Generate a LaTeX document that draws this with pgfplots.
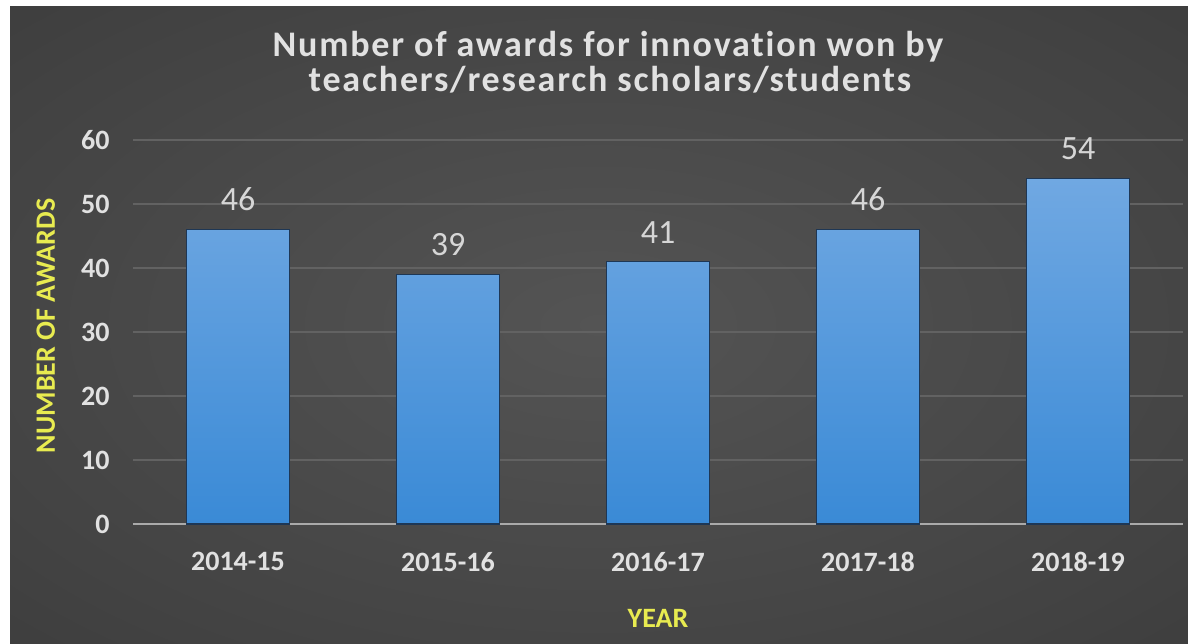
\documentclass[border=0pt]{standalone}
\usepackage{fontspec}
\setmainfont{Carlito}
\newfontfamily\titlefont[LetterSpace=5, Ligatures={NoCommon}]{Carlito}
\usepackage{pgfplots}
\pgfplotsset{compat=1.18}
\definecolor{bgIn}{RGB}{84,84,84}
\definecolor{bgMid}{RGB}{66,66,66}
\definecolor{bgOut}{RGB}{38,38,38}
\definecolor{txt}{RGB}{225,225,225}
\definecolor{lbl}{RGB}{214,214,214}
\definecolor{yel}{RGB}{232,235,80}
\definecolor{barTop}{RGB}{112,168,226}
\definecolor{barBot}{RGB}{58,138,214}
\definecolor{barEdge}{RGB}{30,55,85}
\definecolor{gridc}{RGB}{98,98,98}
\definecolor{axisc}{RGB}{170,170,170}
\pgfdeclareradialshading{bgrad}{\pgfpoint{0bp}{0bp}}{color(0bp)=(bgIn); color(30bp)=(bgMid); color(72bp)=(bgOut)}
\begin{document}
\begin{tikzpicture}
\fill[white] (0,0) rectangle (594pt,321.5pt);
\shade[shading=bgrad] (5pt,0) rectangle (594pt,318pt);
\node[anchor=base, text=txt, font=\titlefont\bfseries\fontsize{18pt}{21pt}\selectfont, inner sep=0pt] at (304pt,293pt) {Number of awards for innovation won by};
\node[anchor=base, text=txt, font=\titlefont\bfseries\fontsize{18pt}{21pt}\selectfont, inner sep=0pt] at (305pt,275.5pt) {teachers/research scholars/students};
\begin{axis}[
  at={(66.5pt,59.5pt)}, anchor=south west,
  scale only axis, width=525pt, height=192pt,
  xmin=-0.5, xmax=4.5, ymin=0, ymax=60,
  xtick=data, xticklabels={2014-15,2015-16,2016-17,2017-18,2018-19},
  ytick={0,10,...,60},
  /pgf/number format/assume math mode=true,
  axis x line*=bottom, axis y line*=left,
  y axis line style={draw=none},
  x axis line style={-, draw=axisc, line width=1pt},
  major tick style={draw=none},
  ymajorgrids, grid style={gridc, line width=0.6pt},
  xticklabel style={text=txt, font=\fontsize{14pt}{16pt}\selectfont\bfseries, inner sep=0pt, anchor=north, yshift=-14pt},
  yticklabel style={text=txt, font=\fontsize{14pt}{16pt}\selectfont\bfseries, inner sep=0pt, anchor=east, xshift=-11.5pt},
  xlabel={YEAR}, ylabel={NUMBER OF AWARDS},
  xlabel style={at={(axis description cs:0.5,-0.247)}, anchor=center, text=yel, font=\fontsize{14pt}{16pt}\selectfont\bfseries},
  ylabel style={at={(axis description cs:-0.083,0.516)}, anchor=center, text=yel, font=\fontsize{14pt}{16pt}\selectfont\bfseries},
  nodes near coords,
  nodes near coords style={text=lbl, font=\fontsize{17pt}{20pt}\selectfont, inner sep=0pt, anchor=south, yshift=9pt},
  clip=false,
]
\addplot[ybar, bar width=51.5pt, draw=barEdge, line width=0.6pt, top color=barTop, bottom color=barBot] coordinates {(0,46) (1,39) (2,41) (3,46) (4,54)};
\end{axis}
\pgfresetboundingbox
\useasboundingbox (0,0) rectangle (594pt,321.5pt);
\end{tikzpicture}
\end{document}
